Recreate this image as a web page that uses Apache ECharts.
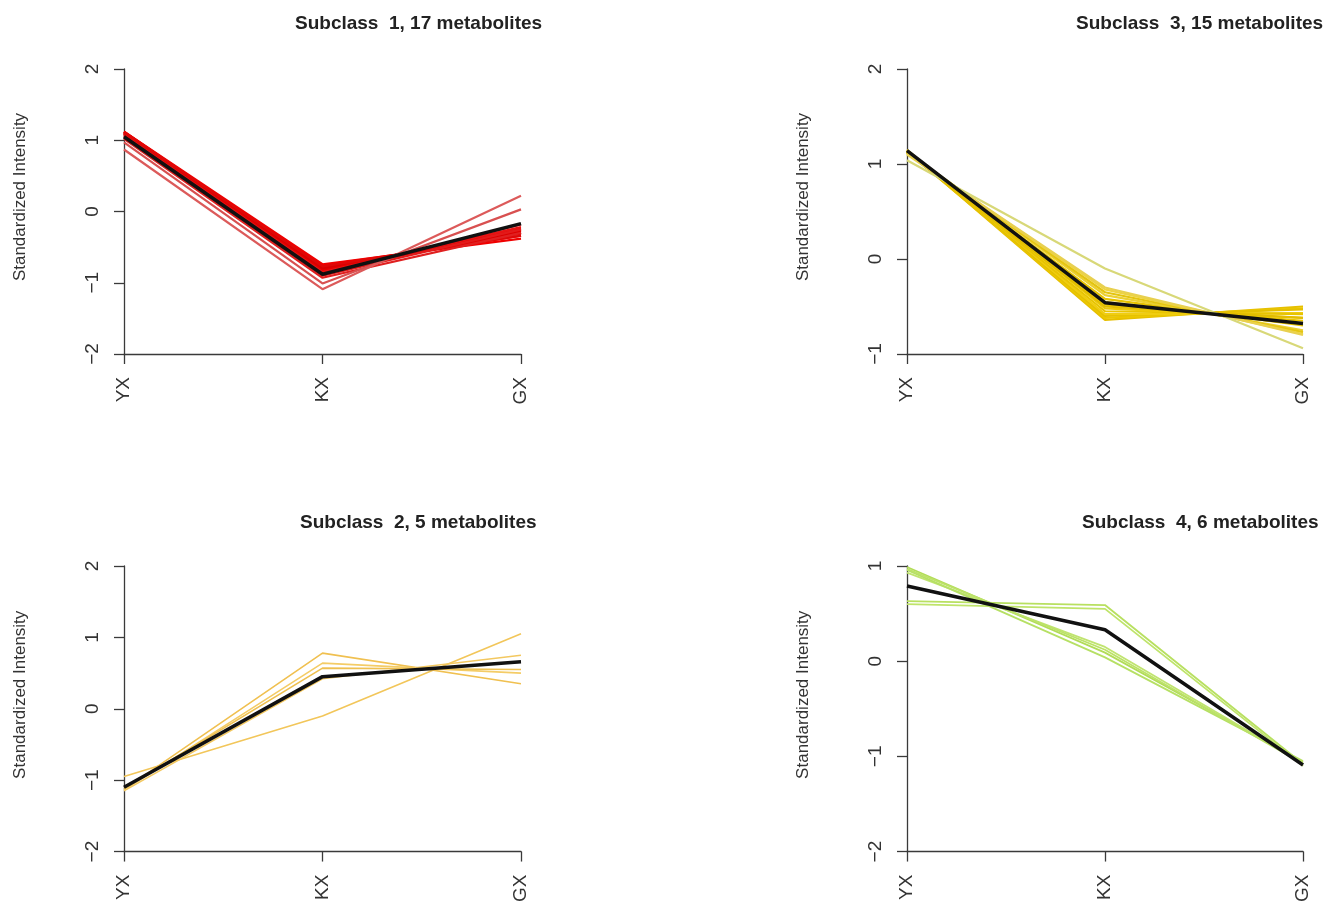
<!DOCTYPE html>
<html>
<head>
<meta charset="utf-8">
<script src="https://cdn.jsdelivr.net/npm/echarts@6/dist/echarts.min.js"></script>
<style>
html,body{margin:0;padding:0;background:#fff;}
#chart{width:1338px;height:905px;}
</style>
</head>
<body>
<div id="chart"></div>
<script>
// ---------------- DATA ----------------
const categories = ['YX', 'KX', 'GX'];

const titles = ['Subclass  1, 17 metabolites', 'Subclass  3, 15 metabolites',
                'Subclass  2, 5 metabolites', 'Subclass  4, 6 metabolites'];

// Subclass 1 (17 metabolites)
const sub1Lines = [
  [1.12, -0.78, -0.34], [1.11, -0.80, -0.31], [1.10, -0.76, -0.34], [1.12, -0.82, -0.30],
  [1.09, -0.79, -0.30], [1.11, -0.84, -0.27], [1.08, -0.80, -0.28], [1.12, -0.74, -0.38],
  [1.10, -0.86, -0.24], [1.09, -0.83, -0.26], [1.11, -0.77, -0.34], [1.07, -0.85, -0.22],
  [1.06, -0.88, -0.18], [1.04, -0.90, -0.25], [1.02, -0.93, -0.30],
  [0.97, -1.01, 0.03], [0.87, -1.09, 0.22]
];
const sub1Center = [1.05, -0.88, -0.17];

// Subclass 3 (15 metabolites)
const sub3Lines = [
  [1.14, -0.64, -0.50], [1.14, -0.62, -0.52], [1.13, -0.60, -0.53], [1.15, -0.58, -0.57],
  [1.13, -0.55, -0.58], [1.14, -0.52, -0.62], [1.12, -0.50, -0.62], [1.13, -0.48, -0.65],
  [1.14, -0.45, -0.69], [1.12, -0.42, -0.70], [1.13, -0.38, -0.75], [1.12, -0.35, -0.77],
  [1.11, -0.32, -0.79], [1.10, -0.30, -0.80], [1.04, -0.10, -0.94]
];
const sub3Center = [1.14, -0.46, -0.68];

// Subclass 2 (5 metabolites)
const sub2Lines = [
  [-0.95, -0.10, 1.05], [-1.13, 0.78, 0.35], [-1.14, 0.64, 0.50],
  [-1.12, 0.57, 0.55], [-1.15, 0.42, 0.75]
];
const sub2Center = [-1.10, 0.45, 0.66];

// Subclass 4 (6 metabolites)
const sub4Lines = [
  [0.63, 0.59, -1.08], [0.60, 0.55, -1.10], [0.99, 0.09, -1.06],
  [0.93, 0.15, -1.07], [0.96, 0.04, -1.05], [0.97, 0.12, -1.08]
];
const sub4Center = [0.79, 0.33, -1.09];

// ---------------- STYLE ----------------
const sub1Colors = ['#e80000','#d40a0a','#f01010','#e00505','#dc0000','#e81010','#d80000','#f00000',
                    '#e00a0a','#e40000','#dd0808','#e61414','#e01010','#e21a1a','#e02020','#d85050','#dc5a5a'];
const sub3Colors = ['#e6bf00','#ecc800','#e4c000','#f0cd10','#e8c400','#edc90a','#e2bd00','#e9c500',
                    '#f0d020','#e6c200','#ecd030','#e4c410','#eed440','#e8d050','#d8d878'];
const sub2Colors = ['#f2c65a','#f0c050','#f4cc66','#eec050','#f3c860'];
const sub4Colors = ['#b8e060','#bfe46a','#b2dc58','#c0e470','#b6e064','#bce268'];

const panels = [
  {lines: sub1Lines, center: sub1Center, colors: sub1Colors, min: -2, max: 2, w: 2.2,
   grid: {left: 124, top: 69, width: 397, height: 285}, title: [290, 9], yname: 197},
  {lines: sub3Lines, center: sub3Center, colors: sub3Colors, min: -1, max: 2, w: 2.2,
   grid: {left: 907, top: 69, width: 396, height: 285}, title: [1071, 9], yname: 197},
  {lines: sub2Lines, center: sub2Center, colors: sub2Colors, min: -2, max: 2, w: 1.6,
   grid: {left: 124, top: 566, width: 397, height: 286}, title: [295, 508], yname: 695},
  {lines: sub4Lines, center: sub4Center, colors: sub4Colors, min: -2, max: 1, w: 1.8,
   grid: {left: 907, top: 566, width: 396, height: 286}, title: [1077, 508], yname: 695}
];

const axisColor = '#3a3a3a';
const fontFamily = 'Liberation Sans, Arial, sans-serif';

const grids = [], xAxes = [], yAxes = [], series = [], titleOpts = [];
panels.forEach((p, i) => {
  grids.push(Object.assign({containLabel: false}, p.grid));
  titleOpts.push({
    text: titles[i], left: p.title[0], top: p.title[1],
    textStyle: {fontFamily: fontFamily, fontSize: 19, fontWeight: 'bold', color: '#222'}
  });
  xAxes.push({
    type: 'category', gridIndex: i, data: categories, boundaryGap: false,
    axisLine: {onZero: false, lineStyle: {color: axisColor, width: 1.3}},
    axisTick: {length: 10, alignWithLabel: true, lineStyle: {color: axisColor, width: 1.3}},
    axisLabel: {rotate: 90, margin: 23, fontFamily: fontFamily, fontSize: 19, color: '#333'},
    splitLine: {show: false}
  });
  yAxes.push({
    type: 'value', gridIndex: i, min: p.min, max: p.max, interval: 1,
    name: 'Standardized Intensity', nameLocation: 'middle', nameRotate: 90, nameGap: 95,
    nameTextStyle: {fontFamily: fontFamily, fontSize: 17, color: '#333',
                    padding: [0, 0, 0, 2 * ((p.grid.top + p.grid.height / 2) - p.yname)]},
    axisLine: {show: true, onZero: false, lineStyle: {color: axisColor, width: 1.3}},
    axisTick: {show: true, length: 10, lineStyle: {color: axisColor, width: 1.3}},
    axisLabel: {rotate: 90, margin: 22, fontFamily: fontFamily, fontSize: 19, color: '#333',
                formatter: v => (v < 0 ? '\u2212' + Math.abs(v) : String(v))},
    splitLine: {show: false}
  });
  p.lines.forEach((vals, k) => {
    series.push({
      type: 'line', xAxisIndex: i, yAxisIndex: i, data: vals, symbol: 'none', silent: true,
      lineStyle: {color: p.colors[k % p.colors.length], width: p.w}, z: 2
    });
  });
  series.push({
    type: 'line', xAxisIndex: i, yAxisIndex: i, data: p.center, symbol: 'none', silent: true,
    lineStyle: {color: '#111', width: 3.5}, z: 5
  });
});

const chart = echarts.init(document.getElementById('chart'), null, {renderer: 'canvas'});
chart.setOption({
  backgroundColor: '#ffffff',
  animation: false,
  title: titleOpts,
  grid: grids,
  xAxis: xAxes,
  yAxis: yAxes,
  series: series
});
</script>
</body>
</html>
